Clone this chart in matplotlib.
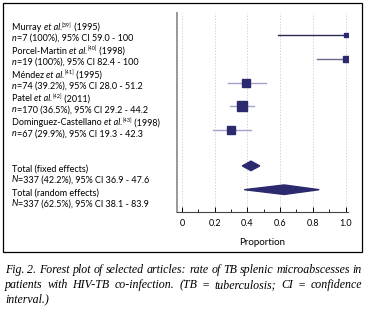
import numpy as np
import matplotlib
matplotlib.use('Agg')
import matplotlib.pyplot as plt
from matplotlib.patches import Rectangle, Polygon
from matplotlib.ticker import MultipleLocator

# dados do forest plot
estudos = ['Murray', 'Porcel-Martin', 'Méndez', 'Patel', 'Dominguez-Castellano']
refs = ['39', '40', '41', '42', '43']
anos = ['1995', '1998', '1995', '2011', '1998']
n_estudo = [7, 19, 74, 170, 67]
prop = [1.0, 1.0, 0.392, 0.365, 0.299]
ic_inf = [0.590, 0.824, 0.280, 0.292, 0.193]
ic_sup = [1.0, 1.0, 0.512, 0.442, 0.423]
tam_marcador = [3.0, 3.8, 5.2, 7.2, 5.2]

totais = ['Total (fixed effects)', 'Total (random effects)']
N_total = [337, 337]
prop_total = [0.422, 0.625]
ic_inf_total = [0.369, 0.381]
ic_sup_total = [0.476, 0.839]

W, H = 368, 315
plt.rcParams['font.family'] = 'Lato'

fig = plt.figure(figsize=(W / 100, H / 100), dpi=100)
renderer = fig.canvas.get_renderer()


def fx(x):
    return x / W


def fy(y):
    return 1 - y / H


def largura(s, **kw):
    # largura robusta (inclui espacos nas pontas)
    a = fig.text(0, 0, '|' + s + '|', **kw)
    b = fig.text(0, 0, '||', **kw)
    w = a.get_window_extent(renderer).width - b.get_window_extent(renderer).width
    a.remove()
    b.remove()
    return w


def texto_partes(x, y, partes, fs):
    # partes: (texto, estilo, escala, subida em px)
    for s, estilo, esc, sobe in partes:
        kw = dict(fontsize=fs * esc, style=estilo)
        fig.text(fx(x), fy(y - sobe), s, va='center', ha='left', **kw)
        x += largura(s, **kw)


# moldura externa
fig.patches.append(Rectangle((fx(3), fy(252)), fx(359), 249 / H, transform=fig.transFigure,
                             fill=False, edgecolor='black', linewidth=0.9))

ax_l, ax_r, ax_t, ax_b = 177, 348, 13, 212
ax = fig.add_axes([fx(ax_l), fy(ax_b), (ax_r - ax_l) / W, (ax_b - ax_t) / H])

pos = [0, 1, 2, 3, 4]
pos_total = [5.5, 6.5]
passo = 23.8
ax.set_ylim((ax_b - 35) / passo, (ax_t - 35) / passo)
ax.set_xlim(-0.03, 1.015)

cores_linha = ['#2a2a55', '#6a6a8e', '#a3a3cc', '#a3a3cc', '#a3a3cc']
cor = '#2b2a6f'
for i in range(len(estudos)):
    ax.plot([ic_inf[i], ic_sup[i]], [pos[i], pos[i]], color=cores_linha[i], linewidth=1.0, zorder=2)
    ax.plot(prop[i], pos[i], marker='s', markersize=tam_marcador[i], color=cor, zorder=3)

alt = 0.2
for j in range(len(totais)):
    y = pos_total[j]
    ax.add_patch(Polygon([(ic_inf_total[j], y), (prop_total[j], y - alt),
                          (ic_sup_total[j], y), (prop_total[j], y + alt)],
                         closed=True, color=cor, zorder=3))

ax.xaxis.set_minor_locator(MultipleLocator(0.1))
ax.set_xticks(np.arange(0, 1.01, 0.2))
ax.set_xticklabels(['0', '0.2', '0.4', '0.6', '0.8', '1.0'])
ax.tick_params(axis='x', which='major', direction='in', length=3.5, width=0.7, labelsize=6.5, pad=5)
ax.tick_params(axis='x', which='minor', direction='in', length=2, width=0.6)
ax.set_yticks([])
ax.grid(axis='x', which='major', linestyle=(0, (1.5, 2)), color='#c8c8c8', linewidth=0.6)
ax.set_xlabel('Proportion', fontsize=7, labelpad=7)
for s in ['top', 'right']:
    ax.spines[s].set_visible(False)
ax.spines['left'].set_color('#999999')
ax.spines['left'].set_linewidth(1.4)
ax.spines['bottom'].set_color('#444444')
ax.spines['bottom'].set_linewidth(0.8)

# rotulos da esquerda
fs = 6.5
y_px = [35 + passo * p for p in pos]
for i in range(len(estudos)):
    pct_txt = '100%' if prop[i] == 1.0 else '%.1f%%' % (prop[i] * 100)
    sup_txt = '100' if ic_sup[i] == 1.0 else '%.1f' % (ic_sup[i] * 100)
    texto_partes(12, y_px[i] - 7.5,
                 [(estudos[i] + ' ', 'normal', 1, 0), ('et al.', 'italic', 1, 0),
                  ('[' + refs[i] + ']', 'normal', 0.62, 2.2), (' (' + anos[i] + ')', 'normal', 1, 0)], fs)
    texto_partes(12, y_px[i] + 3.5,
                 [('n', 'italic', 1, 0),
                  ('=%d (%s), 95%% CI %.1f - %s' % (n_estudo[i], pct_txt, ic_inf[i] * 100, sup_txt),
                   'normal', 1, 0)], fs)

yt_px = [35 + passo * p for p in pos_total]
for j in range(len(totais)):
    fig.text(fx(12), fy(yt_px[j] + 3), totais[j], fontsize=fs, va='center', ha='left')
    texto_partes(12, yt_px[j] + 14,
                 [('N', 'italic', 1, 0),
                  ('=%d (%.1f%%), 95%% CI %.1f - %.1f' % (N_total[j], prop_total[j] * 100,
                                                          ic_inf_total[j] * 100, ic_sup_total[j] * 100),
                   'normal', 1, 0)], fs)

# legenda justificada
linhas = ['Fig. 2. Forest plot of selected articles: rate of TB splenic microabscesses in',
          'patients with HIV-TB co-infection. (TB = tuberculosis; CI = confidence',
          'interval.)']
y_leg = [270, 285, 299]
x0, x1 = 5, 362
kw_leg = dict(fontsize=8.6, family='Liberation Serif', style='italic')
esp_normal = largura(' ', **kw_leg)
for k, linha in enumerate(linhas):
    palavras = linha.split(' ')
    larg = [largura(p, **kw_leg) for p in palavras]
    espaco = esp_normal
    if k < len(linhas) - 1:
        espaco = (x1 - x0 - sum(larg)) / (len(palavras) - 1)
    x = x0
    for p, w in zip(palavras, larg):
        fig.text(fx(x), fy(y_leg[k]), p, va='center', ha='left', **kw_leg)
        x += w + espaco

fig.savefig('out.png', dpi=100)
